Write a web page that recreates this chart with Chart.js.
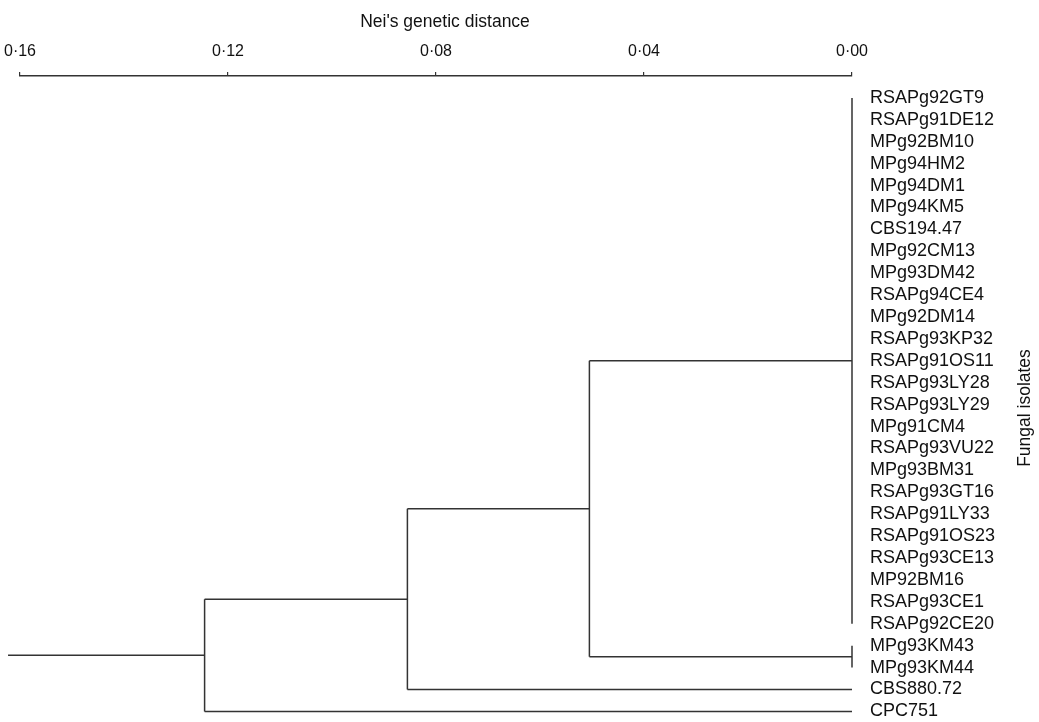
<!DOCTYPE html>
<html lang="en">
<head>
<meta charset="UTF-8">
<title>Nei's genetic distance - fungal isolates</title>
<script src="https://cdn.jsdelivr.net/npm/chart.js"></script>
<style>
  * { margin: 0; padding: 0; box-sizing: border-box; }
  body { background: #fff; }
  #wrap { position: relative; width: 1039px; height: 722px; }
</style>
</head>
<body>
<div id="wrap"><canvas id="tree"></canvas></div>
<script>
// leaves, top to bottom
const leaves = [
  'RSAPg92GT9', 'RSAPg91DE12', 'MPg92BM10', 'MPg94HM2', 'MPg94DM1', 'MPg94KM5',
  'CBS194.47', 'MPg92CM13', 'MPg93DM42', 'RSAPg94CE4', 'MPg92DM14', 'RSAPg93KP32',
  'RSAPg91OS11', 'RSAPg93LY28', 'RSAPg93LY29', 'MPg91CM4', 'RSAPg93VU22', 'MPg93BM31',
  'RSAPg93GT16', 'RSAPg91LY33', 'RSAPg91OS23', 'RSAPg93CE13', 'MP92BM16', 'RSAPg93CE1',
  'RSAPg92CE20', 'MPg93KM43', 'MPg93KM44', 'CBS880.72', 'CPC751'
];

// clusters, joined in this order
const nodeNames = ['A', 'B', 'C', 'D', 'root'];
const nodeChildren = [
  leaves.slice(0, 25),
  ['MPg93KM43', 'MPg93KM44'],
  ['A', 'B'],
  ['C', 'CBS880.72'],
  ['D', 'CPC751']
];
const nodeHeights = [0, 0, 0.0505, 0.0855, 0.1245];
const rootStem = 0.1623;

const distTicks = [0, 0.04, 0.08, 0.12, 0.16];
const xTitle = "Nei's genetic distance";
const yTitle = 'Fungal isolates';

const FONT = '"Liberation Sans", Arial, Helvetica, sans-serif';
const LINE = '#333';
const TEXT = '#111';

// build the elbow segments of the dendrogram
const posX = {}, posY = {};
leaves.forEach((n, i) => { posX[n] = 0; posY[n] = i; });
const segments = [];
nodeNames.forEach((name, k) => {
  const h = nodeHeights[k];
  const ys = nodeChildren[k].map(c => posY[c]);
  const lo = Math.min(...ys), hi = Math.max(...ys);
  nodeChildren[k].forEach(c => {
    if (posX[c] !== h) segments.push([{ x: posX[c], y: posY[c] }, { x: h, y: posY[c] }]);
  });
  segments.push([{ x: h, y: lo }, { x: h, y: hi }]);
  posX[name] = h;
  posY[name] = (lo + hi) / 2;
});
segments.push([{ x: posX.root, y: posY.root }, { x: rootStem, y: posY.root }]);

const titles = {
  id: 'titles',
  afterDraw(chart) {
    const ctx = chart.ctx;
    ctx.save();
    ctx.fillStyle = TEXT;
    ctx.font = '17.5px ' + FONT;
    ctx.textAlign = 'center';
    ctx.textBaseline = 'alphabetic';
    ctx.fillText(xTitle, 445, 27);
    ctx.translate(1030, 408);
    ctx.rotate(-Math.PI / 2);
    ctx.fillText(yTitle, 0, 0);
    ctx.restore();
  }
};

new Chart(document.getElementById('tree'), {
  type: 'scatter',
  data: {
    datasets: segments.map(pts => ({
      data: pts,
      showLine: true,
      borderColor: LINE,
      borderWidth: 1.5,
      pointRadius: 0,
      clip: false
    }))
  },
  options: {
    responsive: true,
    maintainAspectRatio: false,
    animation: false,
    layout: { padding: { left: 20, right: 0, top: 0, bottom: 4 } },
    plugins: { legend: { display: false }, tooltip: { enabled: false } },
    scales: {
      x: {
        type: 'linear',
        position: 'top',
        reverse: true,
        min: 0,
        max: 0.16,
        afterBuildTicks: s => { s.ticks = distTicks.map(v => ({ value: v })); },
        afterFit: s => { s.height = 76; s.paddingLeft = 0; s.paddingRight = 0; },
        grid: { drawOnChartArea: false, drawTicks: true, tickLength: 4, color: LINE, lineWidth: 1.2 },
        border: { display: true, color: LINE, width: 1.5 },
        ticks: {
          autoSkip: false,
          maxRotation: 0,
          padding: 11,
          color: TEXT,
          font: { family: FONT, size: 16 },
          callback: v => v.toFixed(2).replace('.', '\u00b7')
        }
      },
      y: {
        type: 'linear',
        position: 'right',
        reverse: true,
        min: -1,
        max: 28.3,
        afterBuildTicks: s => { s.ticks = leaves.map((_, i) => ({ value: i })); },
        afterFit: s => { s.width = 187; s.paddingTop = 0; s.paddingBottom = 0; },
        grid: { display: false, drawTicks: false },
        border: { display: false },
        ticks: {
          autoSkip: false,
          padding: 18,
          color: TEXT,
          font: { family: FONT, size: 18 },
          callback: v => leaves[v]
        }
      }
    }
  },
  plugins: [titles]
});
</script>
</body>
</html>
